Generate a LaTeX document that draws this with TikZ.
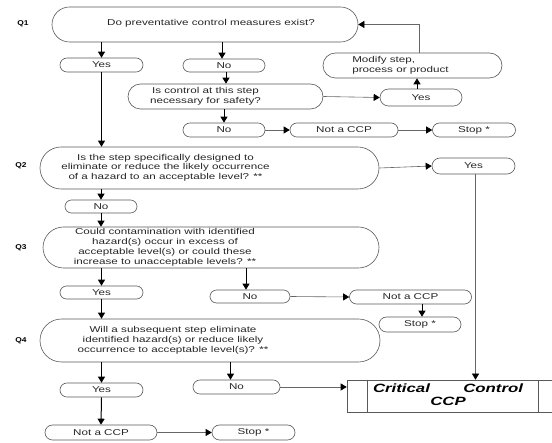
\documentclass[tikz,border=0pt]{standalone}
\usepackage{fontspec}
\setmainfont{Liberation Sans}[FakeStretch=1.37]
\newfontfamily\qfont{Liberation Sans}[FakeStretch=1.2]
\newfontfamily\ccpfont{Liberation Sans}[FakeStretch=1.4]
\usetikzlibrary{shapes.misc,arrows.meta}

% text block of a box, shifted left by half of #1
\newcommand{\boxtext}[3][c]{\begin{tabular}{@{}#1@{}}#3\end{tabular}\hspace*{#2}}

\begin{document}
\begin{tikzpicture}[x=1pt,y=-1pt]

\tikzset{
    question/.style={rounded rectangle, draw=black!65, line width=0.6pt, inner sep=0pt,
        text=black!85, font=\fontsize{8.5}{9.8}\selectfont},
    answer/.style={question, minimum height=14pt},
    qlabel/.style={font=\qfont\bfseries\fontsize{7}{8}\selectfont},
    arr/.style={-{Triangle[length=6pt,width=7pt]}, line width=1pt},
    harr/.style={-{Triangle[length=6pt,width=7pt,color=black]}, line width=0.6pt, draw=black!60}
}

\useasboundingbox (0,0) rectangle (552,443);

%% Q1
\node[qlabel] (q1lab) at (23,24) {Q1};
\node[question, minimum width=306pt, minimum height=35pt] (q1) at (205,24.5)
    {\raisebox{4pt}{\boxtext{-12pt}{Do preventative control measures exist?}}};
\node[answer, minimum width=83pt] (yes1) at (101.5,65) {Yes};
\node[answer, minimum width=82pt, minimum height=13pt] (no1) at (224,65.5) {No};
\node[question, minimum width=195pt, minimum height=25pt] (ctrl) at (225.5,96.5)
    {\boxtext{40pt}{Is control at this step\\necessary for safety?}};
\node[answer, minimum width=82pt, minimum height=17pt] (yes2) at (421,97.5) {Yes};
\node[question, minimum width=179pt, minimum height=25pt] (modify) at (412.5,65.5)
    {\boxtext[l]{24pt}{Modify step,\\process or product}};
\node[answer, minimum width=82pt] (no3) at (224,130) {No};
\node[answer, minimum width=108pt] (ncp1) at (344,130) {Not a CCP};
\node[answer, minimum width=83pt] (stop1) at (474,130) {Stop *};

%% Q2
\node[qlabel] (q2lab) at (21,166) {Q2};
\node[question, minimum width=339pt, minimum height=42pt] (q2) at (209.5,168)
    {\boxtext{88pt}{Is the step specifically designed to\\eliminate or reduce the likely occurrence\\of a hazard to an acceptable level? **}};
\node[answer, minimum width=83pt, minimum height=16pt] (yes4) at (473.5,166) {Yes};
\node[answer, minimum width=72pt, minimum height=13pt] (no5) at (101,206.5) {No};

%% Q3
\node[qlabel] (q3lab) at (21,248) {Q3};
\node[question, minimum width=336pt, minimum height=41pt] (q3) at (211,247.5)
    {\boxtext{92pt}{Could contamination with identified\\hazard(s) occur in excess of\\acceptable level(s) or could these\\increase to unacceptable levels? **}};
\node[answer, minimum width=83pt, minimum height=13pt] (yes6) at (101.5,292.5) {Yes};
\node[answer, minimum width=80pt, minimum height=13pt] (no7) at (250,296.5) {No};
\node[answer, minimum width=122pt] (ncp2) at (410.5,297) {Not a CCP};
\node[answer, minimum width=82pt, minimum height=15pt] (stop2) at (420,324.5) {Stop *};

%% Q4
\node[qlabel] (q4lab) at (21,341) {Q4};
\node[question, minimum width=340pt, minimum height=43pt] (q4) at (210,340.5)
    {\boxtext{74pt}{Will a subsequent step eliminate\\identified hazard(s) or reduce likely\\occurrence to acceptable level(s)? **}};
\node[answer, minimum width=83pt] (yes8) at (101.5,390) {Yes};
\node[answer, minimum width=87pt] (no9) at (236.5,387) {No};
\node[answer, minimum width=112pt, minimum height=15pt] (ncp3) at (101,432.5) {Not a CCP};
\node[answer, minimum width=83pt, minimum height=15pt] (stop3) at (253.5,432.5) {Stop *};

%% CCP
\node[draw=black!65, line width=0.6pt, inner sep=0pt, minimum width=212pt, minimum height=32pt,
    font=\ccpfont\bfseries\itshape\fontsize{12}{13}\selectfont] (ccp) at (453,396)
    {\boxtext{10pt}{\makebox[150pt]{Critical\hfill Control}\\CCP}};
\draw[draw=black!65, line width=0.6pt] ([xshift=21pt]ccp.north west) -- ([xshift=21pt]ccp.south west);
\draw[draw=black!65, line width=0.6pt] ([xshift=-21pt]ccp.north east) -- ([xshift=-21pt]ccp.south east);

%% Q1 connectors
\draw[arr] (yes1 |- q1.south) -- (yes1.north);
\draw[arr] ([xshift=-2pt]no1 |- q1.south) -- ([xshift=-2pt]no1.north);
\draw[arr] ([xshift=2pt]no1.south) -- ([xshift=2pt]no1.south |- ctrl.north);
\draw[harr] (ctrl.east) -- (yes2.west);
\draw[arr] ([xshift=-4pt]yes2.north) -- ([xshift=-4pt]yes2.north |- modify.south);
\draw[harr] ([xshift=7pt]modify.north) |- (q1.east);
\draw[arr] (no3 |- ctrl.south) -- (no3.north);
\draw[harr] (no3.east) -- (ncp1.west);
\draw[harr] (ncp1.east) -- (stop1.west);

%% Q2 connectors
\draw[arr] (yes1.south) -- (yes1 |- q2.north);
\draw[harr] (q2.east) -- (yes4.west);
\draw[harr] ([xshift=2pt]yes4.south) -- ([xshift=2pt]yes4.south |- ccp.north);
\draw[arr] (no5 |- q2.south) -- (no5.north);
\draw[arr] (no5.south) -- (no5 |- q3.north);

%% Q3 connectors
\draw[arr] (yes6 |- q3.south) -- (yes6.north);
\draw[arr] ([xshift=-4pt]no7.north |- q3.south) -- ([xshift=-4pt]no7.north);
\draw[harr] (no7.east) -- (ncp2.west);
\draw[arr] ([xshift=2pt]stop2.north |- ncp2.south) -- ([xshift=2pt]stop2.north);
\draw[arr] (yes6.south) -- (yes6 |- q4.north);

%% Q4 connectors
\draw[arr] (yes8 |- q4.south) -- (yes8.north);
\draw[arr] ([xshift=-6pt]no9.north |- q4.south) -- ([xshift=-6pt]no9.north);
\draw[harr] (no9.east) -- (no9.east -| ccp.west);
\draw[arr] (yes8.south) -- (ncp3.north);
\draw[harr] (ncp3.east) -- (stop3.west);

\end{tikzpicture}
\end{document}
